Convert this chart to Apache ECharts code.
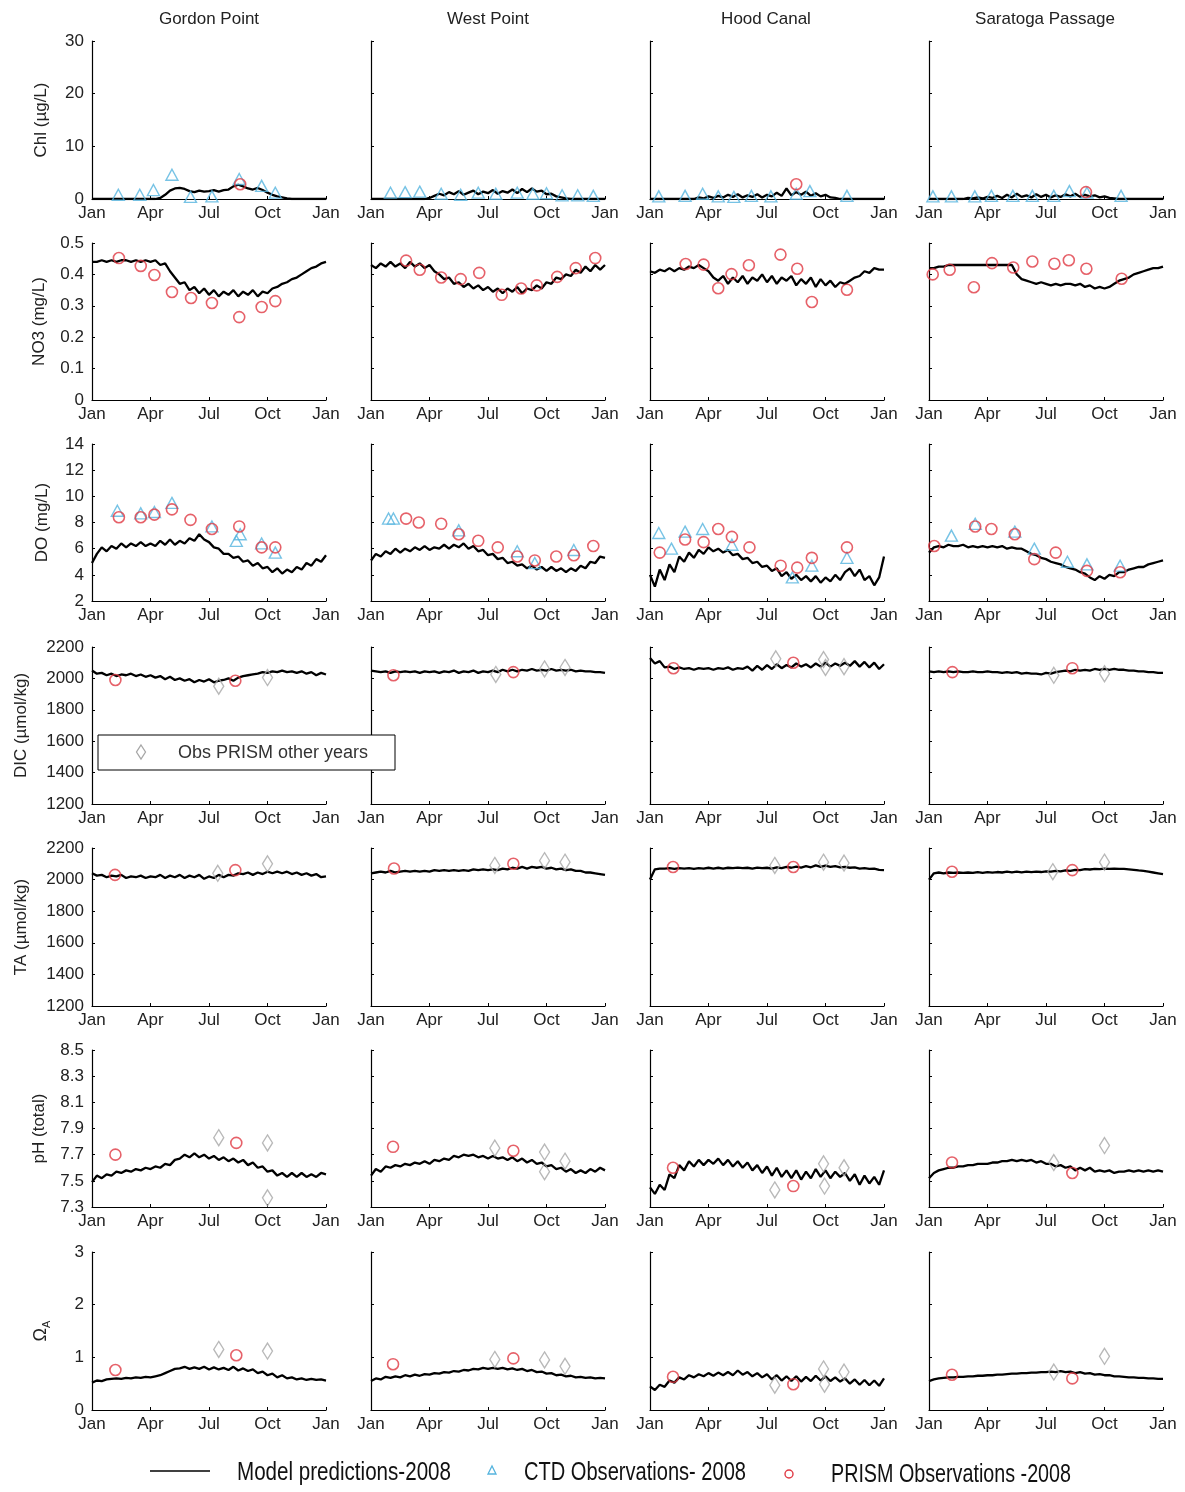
<!DOCTYPE html>
<html>
<head>
<meta charset="utf-8">
<script src="https://cdn.jsdelivr.net/npm/echarts/dist/echarts.min.js"></script>
<style>
  html, body { margin: 0; padding: 0; background: #fff; }
  #chart { width: 1185px; height: 1492px; }
</style>
</head>
<body>
<div id="chart"></div>
<script>
// Stations (columns) and month tick labels
const sites = ['Gordon Point', 'West Point', 'Hood Canal', 'Saratoga Passage'];
const monthTicks = ['Jan', 'Apr', 'Jul', 'Oct', 'Jan'];
const modelStep = 0.25; // model output sampled every quarter month (x axis in months from 1 Jan 2008)

// ---------- Model predictions 2008 (one array per station: GP, WP, HC, SP) ----------
const modelChl = [
  [0,0,0,0,0,0,0,0,0,0,0,0,0,0,0.2,0.8,1.6,2.0,2.1,1.9,1.5,1.3,1.6,1.4,1.5,1.7,1.4,1.7,1.8,2.4,2.7,2.4,2.0,1.8,2.1,1.7,1.2,0.8,0.5,0.3,0.1,0,0,0,0,0,0,0,0],
  [0,0,0,0,0,0,0,0,0,0,0,0,0.2,0.6,1.0,0.7,1.3,0.9,1.5,0.8,1.2,1.6,0.9,1.4,1.1,1.7,1.0,1.5,1.2,1.8,1.1,1.9,1.3,2.0,1.4,1.6,0.9,1.0,0.5,0.3,0.1,0,0,0,0,0,0,0,0],
  [0,0,0,0,0,0,0,0,0,0,0.3,0.1,0.5,0.2,0.6,0.3,0.8,0.4,0.9,0.3,0.7,0.4,0.9,0.3,0.8,0.5,1.2,0.6,2.0,0.7,1.3,0.8,1.4,0.6,1.1,0.5,0.8,0.3,0.2,0,0,0,0,0,0,0,0,0,0],
  [0,0,0,0,0,0,0,0,0.2,0.1,0.3,0.1,0.4,0.2,0.6,0.2,0.8,0.3,1.0,0.4,0.7,0.3,0.9,0.4,0.8,0.3,0.7,0.4,0.9,0.5,1.0,0.4,0.8,0.5,0.7,0.3,0.5,0.2,0.1,0,0,0,0,0,0,0,0,0,0]
];
const modelNO3 = [
  [0.44,0.44,0.445,0.44,0.445,0.44,0.445,0.445,0.44,0.445,0.44,0.445,0.44,0.445,0.43,0.435,0.41,0.39,0.37,0.375,0.35,0.36,0.34,0.355,0.335,0.35,0.33,0.345,0.335,0.35,0.33,0.345,0.335,0.35,0.33,0.345,0.34,0.355,0.36,0.37,0.375,0.385,0.39,0.40,0.41,0.42,0.425,0.435,0.44],
  [0.43,0.42,0.435,0.425,0.44,0.425,0.435,0.42,0.44,0.425,0.435,0.42,0.43,0.41,0.40,0.385,0.39,0.37,0.375,0.36,0.37,0.355,0.365,0.35,0.36,0.345,0.355,0.34,0.355,0.345,0.36,0.34,0.355,0.35,0.365,0.355,0.375,0.37,0.39,0.385,0.40,0.395,0.415,0.405,0.425,0.41,0.43,0.415,0.43],
  [0.41,0.405,0.415,0.41,0.42,0.41,0.42,0.415,0.425,0.42,0.43,0.42,0.41,0.39,0.38,0.395,0.37,0.39,0.375,0.395,0.37,0.39,0.38,0.40,0.375,0.395,0.37,0.39,0.38,0.395,0.365,0.385,0.37,0.39,0.36,0.385,0.365,0.38,0.36,0.375,0.37,0.38,0.39,0.395,0.41,0.405,0.42,0.415,0.415],
  [0.42,0.42,0.425,0.425,0.43,0.43,0.43,0.43,0.43,0.43,0.43,0.43,0.43,0.43,0.43,0.43,0.43,0.43,0.40,0.385,0.38,0.375,0.37,0.375,0.37,0.365,0.37,0.365,0.37,0.37,0.365,0.37,0.36,0.365,0.355,0.36,0.355,0.36,0.37,0.38,0.385,0.39,0.40,0.405,0.41,0.415,0.42,0.42,0.425]
];
const modelDO = [
  [4.9,5.6,6.1,5.8,6.2,6.0,6.4,6.1,6.4,6.2,6.5,6.2,6.4,6.2,6.6,6.3,6.7,6.3,6.6,6.4,6.8,6.6,7.1,6.7,6.5,6.1,6.0,5.6,5.6,5.3,5.4,5.0,5.1,4.7,4.9,4.5,4.6,4.2,4.5,4.1,4.4,4.2,4.6,4.4,4.9,4.7,5.2,5.0,5.5],
  [5.1,5.6,5.4,5.8,5.6,6.0,5.7,6.0,5.8,6.1,5.9,6.2,5.9,6.1,6.0,6.3,6.0,6.3,6.1,6.4,6.0,6.2,5.8,5.9,5.5,5.6,5.2,5.3,4.9,5.0,4.7,4.8,4.5,4.7,4.4,4.6,4.3,4.6,4.3,4.5,4.2,4.5,4.3,4.7,4.5,5.0,4.9,5.4,5.3],
  [4.0,3.1,4.4,3.6,4.8,4.2,5.4,5.0,5.7,5.3,5.9,5.6,6.1,5.8,6.0,5.7,5.9,5.5,5.6,5.2,5.3,4.9,5.0,4.6,4.7,4.3,4.5,3.9,4.2,3.7,4.0,3.6,3.9,3.5,3.9,3.4,3.8,3.5,4.0,3.6,4.2,4.5,3.9,4.4,3.6,3.9,3.2,3.8,5.4],
  [5.7,6.1,6.2,6.1,6.3,6.2,6.2,6.3,6.1,6.2,6.1,6.2,6.1,6.2,6.1,6.2,6.0,6.1,6.0,6.0,5.8,5.6,5.5,5.3,5.2,5.0,4.9,4.8,4.6,4.5,4.4,4.2,4.1,3.8,3.6,3.9,3.7,4.0,3.9,4.2,4.2,4.4,4.5,4.6,4.6,4.8,4.9,5.0,5.1]
];
const modelDIC = [
  [2050,2030,2035,2020,2030,2015,2025,2020,2030,2015,2025,2010,2020,2005,2015,1995,2010,1990,2000,1985,1995,1975,1990,1980,1995,1975,1985,1990,2000,1985,2005,2015,2020,2025,2030,2040,2035,2045,2040,2050,2040,2045,2035,2045,2030,2040,2020,2035,2025],
  [2050,2045,2040,2045,2035,2045,2040,2045,2040,2045,2035,2045,2040,2045,2035,2045,2040,2050,2035,2045,2040,2050,2035,2045,2040,2050,2040,2055,2045,2055,2045,2055,2050,2060,2050,2055,2050,2060,2050,2055,2050,2055,2045,2050,2045,2045,2040,2040,2035],
  [2130,2095,2110,2070,2075,2060,2070,2060,2065,2055,2065,2060,2065,2055,2065,2060,2070,2055,2065,2060,2075,2050,2080,2055,2085,2060,2090,2065,2085,2070,2095,2075,2090,2070,2095,2075,2100,2075,2095,2080,2100,2080,2110,2075,2105,2070,2100,2060,2090],
  [2045,2040,2045,2040,2045,2040,2045,2040,2040,2045,2040,2040,2045,2040,2040,2035,2040,2035,2040,2030,2035,2030,2030,2025,2035,2030,2040,2045,2050,2045,2055,2050,2055,2050,2060,2055,2060,2055,2060,2055,2055,2050,2050,2045,2045,2040,2040,2035,2035]
];
const modelTA = [
  [2040,2025,2030,2015,2025,2020,2030,2010,2020,2015,2025,2010,2020,2015,2030,2010,2025,2015,2030,2010,2025,2015,2030,2005,2020,2010,2030,2015,2030,2025,2040,2035,2045,2030,2045,2035,2050,2040,2050,2040,2050,2035,2045,2030,2040,2025,2035,2015,2020],
  [2040,2045,2050,2045,2055,2045,2050,2055,2050,2055,2050,2055,2050,2060,2055,2060,2055,2060,2055,2060,2055,2065,2060,2065,2060,2065,2060,2070,2065,2075,2070,2080,2070,2080,2075,2080,2070,2075,2065,2070,2060,2065,2055,2055,2045,2045,2040,2035,2030],
  [2000,2065,2070,2070,2072,2068,2072,2070,2073,2068,2072,2070,2075,2070,2075,2070,2075,2072,2076,2072,2075,2070,2076,2072,2075,2070,2078,2072,2080,2075,2082,2076,2085,2078,2090,2080,2088,2080,2085,2078,2080,2075,2078,2070,2072,2068,2070,2062,2060],
  [2000,2040,2045,2040,2045,2042,2045,2042,2045,2042,2048,2043,2048,2044,2048,2045,2050,2046,2050,2046,2050,2047,2050,2048,2052,2050,2055,2052,2058,2055,2062,2060,2066,2064,2068,2066,2070,2068,2070,2068,2068,2065,2062,2058,2055,2050,2045,2040,2035]
];
const modelPH = [
  [7.49,7.54,7.52,7.55,7.54,7.57,7.56,7.58,7.57,7.59,7.58,7.60,7.59,7.61,7.60,7.63,7.62,7.66,7.67,7.70,7.68,7.71,7.68,7.70,7.67,7.69,7.66,7.68,7.65,7.67,7.64,7.66,7.62,7.64,7.60,7.61,7.57,7.58,7.54,7.56,7.53,7.56,7.53,7.56,7.53,7.55,7.53,7.56,7.55],
  [7.54,7.59,7.57,7.61,7.60,7.62,7.61,7.63,7.62,7.64,7.63,7.65,7.63,7.66,7.65,7.67,7.66,7.69,7.68,7.70,7.69,7.70,7.68,7.69,7.67,7.69,7.67,7.68,7.66,7.68,7.65,7.67,7.64,7.66,7.63,7.64,7.61,7.62,7.59,7.60,7.57,7.59,7.56,7.58,7.56,7.59,7.57,7.60,7.58],
  [7.45,7.40,7.47,7.43,7.55,7.52,7.62,7.58,7.65,7.61,7.66,7.62,7.66,7.63,7.67,7.62,7.66,7.61,7.65,7.60,7.64,7.58,7.62,7.56,7.61,7.54,7.60,7.53,7.58,7.52,7.58,7.51,7.57,7.52,7.59,7.53,7.58,7.52,7.57,7.53,7.56,7.50,7.55,7.47,7.54,7.48,7.53,7.47,7.58],
  [7.52,7.56,7.58,7.59,7.60,7.60,7.61,7.61,7.62,7.62,7.63,7.63,7.63,7.64,7.64,7.65,7.65,7.66,7.65,7.66,7.65,7.66,7.64,7.65,7.63,7.63,7.61,7.62,7.60,7.61,7.58,7.60,7.58,7.60,7.57,7.58,7.57,7.58,7.56,7.57,7.57,7.58,7.57,7.58,7.57,7.58,7.57,7.58,7.57]
];
const modelOmega = [
  [0.52,0.56,0.55,0.58,0.59,0.60,0.59,0.61,0.60,0.62,0.61,0.63,0.62,0.64,0.66,0.70,0.74,0.78,0.79,0.82,0.78,0.81,0.78,0.82,0.77,0.81,0.77,0.80,0.76,0.82,0.75,0.79,0.74,0.77,0.70,0.73,0.66,0.69,0.62,0.66,0.60,0.62,0.58,0.60,0.57,0.59,0.57,0.58,0.56],
  [0.55,0.60,0.58,0.63,0.61,0.64,0.62,0.66,0.64,0.67,0.65,0.68,0.67,0.70,0.69,0.72,0.71,0.74,0.73,0.76,0.75,0.78,0.77,0.80,0.78,0.80,0.78,0.80,0.77,0.79,0.76,0.78,0.74,0.76,0.72,0.73,0.69,0.70,0.66,0.67,0.64,0.65,0.62,0.63,0.61,0.62,0.60,0.61,0.60],
  [0.45,0.38,0.48,0.44,0.56,0.52,0.62,0.58,0.66,0.62,0.68,0.64,0.70,0.65,0.71,0.66,0.72,0.66,0.75,0.67,0.72,0.64,0.70,0.62,0.68,0.58,0.66,0.56,0.64,0.55,0.64,0.54,0.63,0.55,0.65,0.56,0.64,0.55,0.62,0.54,0.60,0.50,0.58,0.48,0.57,0.47,0.56,0.46,0.60],
  [0.55,0.58,0.60,0.61,0.62,0.62,0.63,0.63,0.64,0.64,0.65,0.65,0.66,0.66,0.67,0.67,0.68,0.69,0.69,0.70,0.70,0.71,0.71,0.72,0.72,0.73,0.72,0.74,0.72,0.73,0.70,0.72,0.69,0.70,0.67,0.68,0.66,0.66,0.64,0.64,0.63,0.62,0.62,0.61,0.61,0.60,0.60,0.59,0.59]
];

// ---------- Observations: [month, value] ----------
const ctdChl = [
  [[1.35,0.8],[2.45,0.8],[3.15,1.7],[4.1,4.6],[5.05,0.4],[6.15,0.5],[7.55,3.8],[8.7,2.5],[9.4,1.2]],
  [[1.0,1.2],[1.75,1.3],[2.5,1.4],[3.6,1.0],[4.6,0.8],[5.5,1.2],[6.4,1.0],[7.5,1.2],[8.3,1.0],[9.0,1.1],[9.8,0.7],[10.6,0.7],[11.4,0.6]],
  [[0.45,0.5],[1.8,0.6],[2.7,1.0],[3.5,0.5],[4.3,0.4],[5.2,0.6],[6.2,0.5],[7.5,1.0],[8.2,1.5],[10.1,0.6]],
  [[0.2,0.5],[1.15,0.5],[2.35,0.5],[3.2,0.6],[4.3,0.6],[5.3,0.6],[6.4,0.6],[7.2,1.5],[8.1,1.2],[9.85,0.6]]
];
const prismChl = [[[7.6,2.8]], [], [[7.5,2.8]], [[8.05,1.3]]];

const prismNO3 = [
  [[1.38,0.452],[2.5,0.427],[3.2,0.398],[4.1,0.344],[5.08,0.325],[6.15,0.309],[7.55,0.264],[8.7,0.296],[9.4,0.315]],
  [[1.8,0.444],[2.5,0.415],[3.6,0.39],[4.6,0.385],[5.55,0.405],[6.7,0.335],[7.7,0.355],[8.5,0.365],[9.55,0.392],[10.5,0.42],[11.5,0.452]],
  [[1.83,0.433],[2.75,0.431],[3.5,0.356],[4.18,0.401],[5.07,0.429],[6.69,0.463],[7.55,0.418],[8.3,0.312],[10.1,0.351]],
  [[0.19,0.40],[1.06,0.415],[2.3,0.359],[3.23,0.436],[4.32,0.422],[5.3,0.441],[6.43,0.434],[7.17,0.445],[8.07,0.418],[9.88,0.386]]
];

const ctdDO = [
  [[1.3,8.9],[2.5,8.7],[3.2,8.8],[4.1,9.5],[6.15,7.7],[7.4,6.6],[7.6,7.1],[8.7,6.4],[9.4,5.7]],
  [[0.9,8.3],[1.15,8.3],[4.5,7.4],[7.5,5.8],[8.4,4.9],[10.4,5.9]],
  [[0.45,7.2],[1.1,6.0],[1.8,7.3],[2.7,7.5],[4.2,6.3],[7.3,3.8],[8.3,4.7],[10.1,5.3]],
  [[1.15,7.0],[2.37,7.9],[4.4,7.3],[5.4,6.0],[7.1,5.0],[8.1,4.8],[9.8,4.7]]
];
const prismDO = [
  [[1.38,8.4],[2.5,8.4],[3.2,8.6],[4.1,9.0],[5.05,8.2],[6.15,7.5],[7.55,7.7],[8.7,6.1],[9.4,6.1]],
  [[1.8,8.3],[2.45,8.0],[3.6,7.9],[4.5,7.1],[5.5,6.6],[6.5,6.1],[7.5,5.4],[8.4,5.1],[9.5,5.4],[10.4,5.5],[11.4,6.2]],
  [[0.5,5.7],[1.8,6.7],[2.75,6.5],[3.5,7.5],[4.2,6.9],[5.1,6.1],[6.7,4.7],[7.55,4.55],[8.3,5.3],[10.1,6.1]],
  [[0.27,6.2],[2.37,7.7],[3.2,7.5],[4.4,7.1],[5.4,5.2],[6.5,5.7],[8.1,4.3],[9.8,4.2]]
];

const prismDIC = [[[1.2,1990],[7.35,1985]], [[1.15,2020],[7.3,2040]], [[1.2,2065],[7.35,2100]], [[1.2,2040],[7.35,2065]]];
const otherDIC = [[[6.5,1950],[9.0,2005]], [[6.4,2025],[8.9,2060],[9.95,2070]], [[6.45,2125],[8.9,2120],[9.0,2070],[9.95,2075]], [[6.4,2020],[9.0,2030]]];

const prismTA = [[[1.18,2030],[7.35,2060]], [[1.18,2070],[7.3,2100]], [[1.18,2080],[7.35,2080]], [[1.18,2050],[7.35,2060]]];
const otherTA = [[[6.45,2040],[9.0,2100]], [[6.35,2090],[8.9,2120],[9.95,2110]], [[6.4,2090],[8.9,2110],[9.95,2105]], [[6.35,2050],[9.0,2110]]];

const prismPH = [[[1.2,7.70],[7.4,7.79]], [[1.13,7.76],[7.3,7.73]], [[1.18,7.60],[7.35,7.46]], [[1.18,7.64],[7.35,7.56]]];
const otherPH = [[[6.5,7.83],[9.0,7.79],[9.0,7.37]], [[6.35,7.75],[8.9,7.72],[8.9,7.57],[9.95,7.65]], [[6.4,7.43],[8.9,7.63],[8.95,7.46],[9.95,7.60]], [[6.4,7.64],[9.0,7.77]]];

const prismOmega = [[[1.2,0.76],[7.4,1.04]], [[1.13,0.87],[7.3,0.98]], [[1.18,0.63],[7.35,0.49]], [[1.18,0.67],[7.35,0.60]]];
const otherOmega = [[[6.5,1.15],[9.0,1.12]], [[6.35,0.96],[8.9,0.95],[9.95,0.83]], [[6.4,0.47],[8.9,0.78],[8.95,0.49],[9.95,0.72]], [[6.4,0.72],[9.0,1.02]]];

// ---------- Variables (rows) ----------
const variables = [
  { name: 'Chl (µg/L)',    min: 0,    max: 30,   step: 10,  dec: 0, model: modelChl,   ctd: ctdChl, prism: prismChl,   other: null },
  { name: 'NO3 (mg/L)',    min: 0,    max: 0.5,  step: 0.1, dec: 1, model: modelNO3,   ctd: null,   prism: prismNO3,   other: null },
  { name: 'DO (mg/L)',     min: 2,    max: 14,   step: 2,   dec: 0, model: modelDO,    ctd: ctdDO,  prism: prismDO,    other: null },
  { name: 'DIC (µmol/kg)', min: 1200, max: 2200, step: 200, dec: 0, model: modelDIC,   ctd: null,   prism: prismDIC,   other: otherDIC },
  { name: 'TA (µmol/kg)',  min: 1200, max: 2200, step: 200, dec: 0, model: modelTA,    ctd: null,   prism: prismTA,    other: otherTA },
  { name: 'pH (total)',    min: 7.3,  max: 8.5,  step: 0.2, dec: 1, model: modelPH,    ctd: null,   prism: prismPH,    other: otherPH },
  { name: '{o|Ω}{s|A}',    min: 0,    max: 3,    step: 1,   dec: 0, model: modelOmega, ctd: null,   prism: prismOmega, other: otherOmega }
];

// ---------- Layout ----------
const colLeft = [92, 371, 650, 929];
const panelWidth = 234;
const rowTop = [41, 243, 444, 647, 848, 1050, 1252];
const rowHeight = [158, 157, 157, 157, 158, 157, 158];
const nameGap = [42, 44, 41, 62, 62, 44, 40];
const FONT = "'Liberation Sans', Arial, sans-serif";
const INK = '#222';
const CTD_BLUE = '#55b4de';
const PRISM_RED = '#e03a44';
const OTHER_GREY = '#a6a6a6';

const grid = [], xAxis = [], yAxis = [], series = [];

variables.forEach((v, r) => {
  sites.forEach((site, c) => {
    const k = r * 4 + c;
    grid.push({ left: colLeft[c], top: rowTop[r], width: panelWidth, height: rowHeight[r] });
    xAxis.push({
      gridIndex: k, type: 'value', min: 0, max: 12, interval: 3,
      axisLine: { lineStyle: { color: '#000', width: 1.2 } },
      axisTick: { inside: true, length: 3, lineStyle: { color: '#000' } },
      splitLine: { show: false },
      axisLabel: {
        margin: 6, fontFamily: FONT, fontSize: 17, color: INK,
        showMinLabel: true, showMaxLabel: true,
        formatter: val => monthTicks[Math.round(val / 3)]
      }
    });
    yAxis.push({
      gridIndex: k, type: 'value', min: v.min, max: v.max, interval: v.step,
      name: c === 0 ? v.name : '',
      nameLocation: 'middle', nameGap: nameGap[r], nameRotate: 90,
      nameTextStyle: {
        fontFamily: FONT, fontSize: 17, color: INK,
        rich: { o: { fontFamily: FONT, fontSize: 18, color: INK }, s: { fontFamily: FONT, fontSize: 11, color: INK, padding: [10, 0, 0, 0] } }
      },
      axisLine: { show: true, lineStyle: { color: '#000', width: 1.2 } },
      axisTick: { show: true, inside: true, length: 3, lineStyle: { color: '#000' } },
      splitLine: { show: false },
      axisLabel: {
        show: c === 0, margin: 8, fontFamily: FONT, fontSize: 17, color: INK,
        formatter: val => (v.dec && Math.abs(val) > 1e-9) ? val.toFixed(v.dec) : String(Math.round(val))
      }
    });
    series.push({
      type: 'line', xAxisIndex: k, yAxisIndex: k, silent: true,
      data: v.model[c].map((y, i) => [i * modelStep, y]),
      showSymbol: false, symbol: 'none',
      lineStyle: { color: '#000', width: 2.3 }, z: 2
    });
    if (v.other && v.other[c].length) {
      series.push({
        type: 'scatter', xAxisIndex: k, yAxisIndex: k, data: v.other[c],
        symbol: 'diamond', symbolSize: [10, 16],
        itemStyle: { color: 'rgba(0,0,0,0)', borderColor: OTHER_GREY, borderWidth: 1.4 }, z: 3
      });
    }
    if (v.ctd && v.ctd[c].length) {
      series.push({
        type: 'scatter', xAxisIndex: k, yAxisIndex: k, data: v.ctd[c],
        symbol: 'triangle', symbolSize: [12, 11],
        itemStyle: { color: 'rgba(0,0,0,0)', borderColor: CTD_BLUE, borderWidth: 1.4 }, z: 4
      });
    }
    if (v.prism && v.prism[c].length) {
      series.push({
        type: 'scatter', xAxisIndex: k, yAxisIndex: k, data: v.prism[c],
        symbol: 'circle', symbolSize: 11,
        itemStyle: { color: 'rgba(0,0,0,0)', borderColor: PRISM_RED, borderWidth: 1.6 }, z: 5
      });
    }
  });
});

// ---------- Station titles, inset legend and bottom legend ----------
const titleX = [209, 488, 766, 1045];
const graphics = sites.map((s, c) => ({
  type: 'text', x: titleX[c], y: 19,
  style: { text: s, font: '17px ' + FONT, fill: INK, textAlign: 'center', textVerticalAlign: 'middle', align: 'center', verticalAlign: 'middle' }
}));

// "Obs PRISM other years" box inside the Gordon Point DIC panel
graphics.push({ type: 'rect', shape: { x: 98, y: 735, width: 297, height: 35 }, style: { fill: '#fff', stroke: '#000', lineWidth: 1 }, z: 100 });
graphics.push({ type: 'polygon', shape: { points: [[141, 745], [145.5, 752], [141, 759], [136.5, 752]] }, style: { fill: 'none', stroke: OTHER_GREY, lineWidth: 1.3 }, z: 101 });
graphics.push({
  type: 'text', x: 178, y: 753, z: 101,
  style: { text: 'Obs PRISM other years', font: '18px ' + FONT, fill: '#333', textAlign: 'left', textVerticalAlign: 'middle', align: 'left', verticalAlign: 'middle' }
});

// Bottom legend (condensed lettering)
const measure = document.createElement('canvas').getContext('2d');
const legendFontSize = 26;
measure.font = legendFontSize + 'px ' + FONT;
function condensedText(text, x, y, width) {
  const w = measure.measureText(text).width;
  return {
    type: 'text', x: x, y: y, scaleX: width / w, scaleY: 1,
    style: { text: text, font: legendFontSize + 'px ' + FONT, fill: '#111', textAlign: 'left', textVerticalAlign: 'middle', align: 'left', verticalAlign: 'middle' }
  };
}
graphics.push({ type: 'line', shape: { x1: 150, y1: 1471, x2: 210, y2: 1471 }, style: { stroke: '#000', lineWidth: 1.5 } });
graphics.push(condensedText('Model predictions-2008', 237, 1473, 214));
graphics.push({ type: 'polygon', shape: { points: [[488, 1474], [496, 1474], [492, 1466]] }, style: { fill: 'none', stroke: CTD_BLUE, lineWidth: 1.3 } });
graphics.push(condensedText('CTD Observations- 2008', 524, 1473, 222));
graphics.push({ type: 'circle', shape: { cx: 789, cy: 1474, r: 4 }, style: { fill: 'none', stroke: PRISM_RED, lineWidth: 1.4 } });
graphics.push(condensedText('PRISM Observations -2008', 831, 1475, 240));

const chart = echarts.init(document.getElementById('chart'), null, { renderer: 'canvas' });
chart.setOption({
  backgroundColor: '#fff',
  animation: false,
  grid: grid,
  xAxis: xAxis,
  yAxis: yAxis,
  series: series,
  graphic: graphics
});
</script>
</body>
</html>
